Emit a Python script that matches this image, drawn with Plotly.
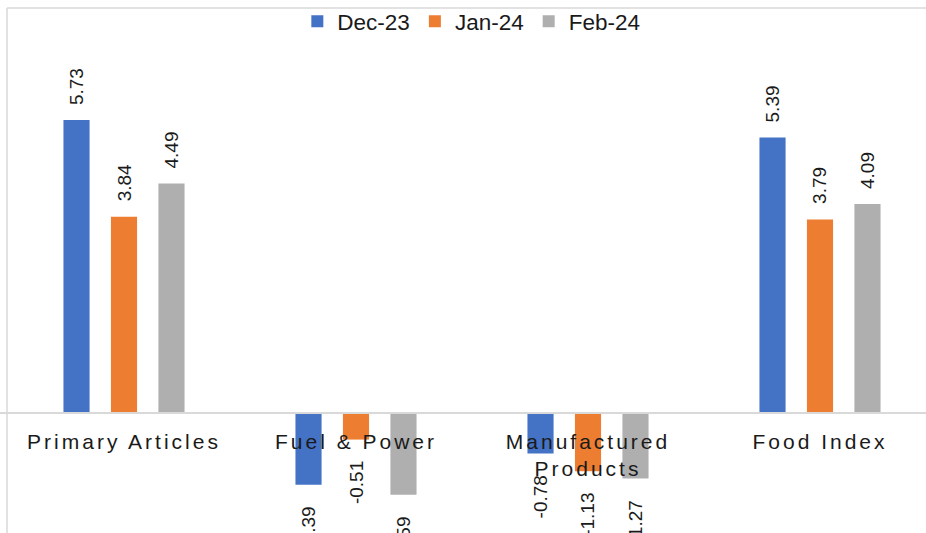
import plotly.graph_objects as go

categories = ["Primary Articles", "Fuel & Power", "Manufactured Products", "Food Index"]
tick_labels = ["Primary Articles", "Fuel & Power", "Manufactured<br>Products", "Food Index"]
series_names = ["Dec-23", "Jan-24", "Feb-24"]
dec23 = [5.73, -1.39, -0.78, 5.39]
jan24 = [3.84, -0.51, -1.13, 3.79]
feb24 = [4.49, -1.59, -1.27, 4.09]

colors = ["#4472C4", "#ED7D31", "#AFAFAF"]
FONT = "Liberation Sans, Arial, sans-serif"
BARGAP = 0.386
series = [dec23, jan24, feb24]

def spaced(label):
    return "<br>".join(
        f"<span style='letter-spacing:3px'>{part}</span>" for part in label.split("<br>")
    )

fig = go.Figure()
for name, vals, col in zip(series_names, series, colors):
    fig.add_trace(go.Bar(
        x=categories, y=vals, name=name,
        marker=dict(color=col, line=dict(width=0)),
    ))

# data labels (rotated), positioned at each bar's slot in the group
slot = (1 - BARGAP) / len(series)
annotations = []
for si, vals in enumerate(series):
    for ci, v in enumerate(vals):
        annotations.append(dict(
            x=ci + (si - (len(series) - 1) / 2) * slot, y=v,
            xref="x", yref="y", text=f"{v:.2f}", showarrow=False,
            textangle=-90, yanchor="bottom" if v >= 0 else "top",
            yshift=13 if v >= 0 else -20,
            font=dict(family=FONT, size=19, color="#1a1a1a"),
        ))

W, H = 926, 533
zero_px = 413
ppu = 51.4
fig.update_layout(
    width=W, height=H,
    margin=dict(l=0, r=0, t=0, b=0),
    paper_bgcolor="white", plot_bgcolor="white",
    barmode="group", bargap=BARGAP, bargroupgap=0.45,
    showlegend=True,
    legend=dict(orientation="h", x=0.509, xanchor="center", y=1 + 2 / H, yanchor="top",
                font=dict(family=FONT, size=22.5, color="#1a1a1a"), itemwidth=30,
                bgcolor="rgba(0,0,0,0)", traceorder="normal"),
    xaxis=dict(
        type="category", range=[-124 / 232, (W - 124) / 232],
        tickvals=categories, ticktext=[spaced(t) for t in tick_labels],
        tickfont=dict(family=FONT, size=21, color="#1a1a1a"),
        showline=True, linecolor="#D9D9D9", linewidth=2,
        ticks="", showgrid=False, zeroline=False,
        anchor="free", position=(H - zero_px) / H,
        ticklabelstandoff=9,
    ),
    yaxis=dict(range=[-(H - zero_px) / ppu, zero_px / ppu], visible=False,
               showgrid=False, zeroline=False),
    annotations=annotations,
    shapes=[
        dict(type="line", xref="paper", yref="paper", x0=7 / W, x1=7 / W, y0=0, y1=1 - 6 / H,
             line=dict(color="#D9D9D9", width=1.5)),
        dict(type="line", xref="paper", yref="paper", x0=7 / W, x1=1, y0=1 - 6 / H, y1=1 - 6 / H,
             line=dict(color="#D9D9D9", width=1.5)),
    ],
)

fig.write_html("out.html", config={"displayModeBar": False},
               post_script="document.body.style.margin='0';")
